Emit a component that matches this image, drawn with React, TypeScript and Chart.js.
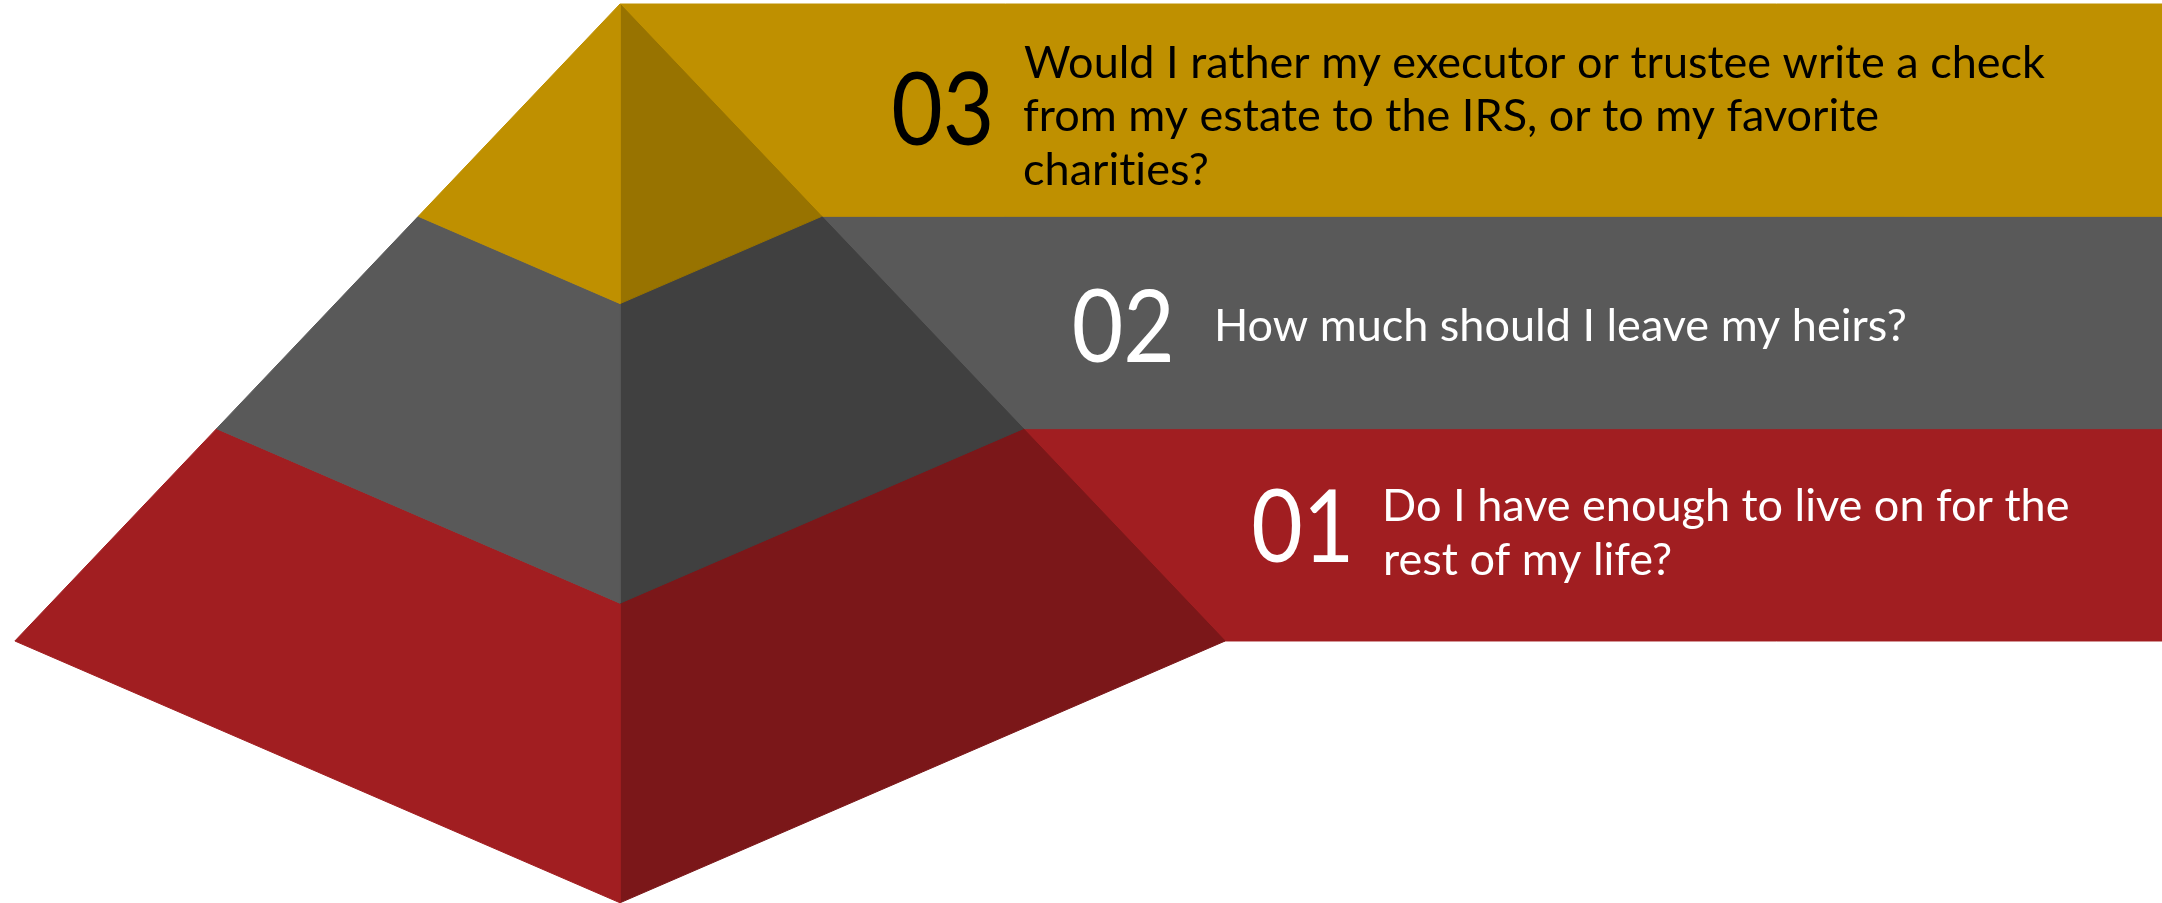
import React, { useEffect, useRef } from "react";
import { Chart, registerables } from "chart.js";

Chart.register(...registerables);

// ---------------- data ----------------
const tierNumbers = ["03", "02", "01"];
const tierQuestions: string[][] = [
  [
    "Would I rather my executor or trustee write a check",
    "from my estate to the IRS, or to my favorite",
    "charities?",
  ],
  ["How much should I leave my heirs?"],
  ["Do I have enough to live on for the", "rest of my life?"],
];
const tierLevels = [0, 1, 2, 3]; // tier boundaries, top to bottom (in tier units)

// ---------------- styles / layout ----------------
const faceLight = ["#BF9000", "#595959", "#A11E21"];
const faceDark = ["#987300", "#404040", "#7B1719"];
const textColors = ["#000000", "#FFFFFF", "#FFFFFF"];
const SLOPE = 0.95; // half-width growth per tier unit
const DEPTH = 0.411; // front-edge drop per tier unit
const W = 2162;
const H = 903;
const UNIT_PX = 212.33;
const APEX_X_PX = 620;
const APEX_Y_PX = 4;
const X_MIN = -APEX_X_PX / UNIT_PX;
const X_MAX = (W - APEX_X_PX) / UNIT_PX;
const Y_MIN = -APEX_Y_PX / UNIT_PX;
const Y_MAX = (H - APEX_Y_PX) / UNIT_PX;
const numberX = [1.29, 2.14, 2.985];
const textX = [1.903, 2.816, 3.608];
const numOffsetPx = [-2, 3, -10];
const textOffsetPx = [5, 3, -3];
const FONT = "Lato";
const NUM_SIZE = 100;
const NUM_XSCALE = 0.89;
const TEXT_SIZE = 45;
const LINE_H = 53.6;

function buildDatasets() {
  const sets: any[] = [];
  tierNumbers.forEach((_, i) => {
    const t0 = tierLevels[i];
    const t1 = tierLevels[i + 1];
    const top = t0 * (1 + DEPTH);
    const bot = t1 * (1 + DEPTH);
    const common = {
      showLine: true,
      fill: "shape",
      pointRadius: 0,
      pointHoverRadius: 0,
      borderWidth: 1,
      tension: 0,
    };
    sets.push({
      ...common,
      label: "band " + tierNumbers[i],
      order: 2,
      backgroundColor: faceLight[i],
      borderColor: faceLight[i],
      data: [
        { x: 0, y: t0 },
        { x: X_MAX, y: t0 },
        { x: X_MAX, y: t1 },
        { x: 0, y: t1 },
        { x: 0, y: t0 },
      ],
    });
    sets.push({
      ...common,
      label: "left " + tierNumbers[i],
      order: 1,
      backgroundColor: faceLight[i],
      borderColor: faceLight[i],
      data: [
        { x: -SLOPE * t0, y: t0 },
        { x: 0, y: top },
        { x: 0, y: bot },
        { x: -SLOPE * t1, y: t1 },
        { x: -SLOPE * t0, y: t0 },
      ],
    });
    sets.push({
      ...common,
      label: "right " + tierNumbers[i],
      order: 1,
      backgroundColor: faceDark[i],
      borderColor: faceDark[i],
      data: [
        { x: SLOPE * t0, y: t0 },
        { x: 0, y: top },
        { x: 0, y: bot },
        { x: SLOPE * t1, y: t1 },
        { x: SLOPE * t0, y: t0 },
      ],
    });
  });
  return sets;
}

const labelPlugin = {
  id: "tierLabels",
  afterDatasetsDraw(chart: any) {
    const { ctx } = chart;
    const xs = chart.scales.x;
    const ys = chart.scales.y;
    tierNumbers.forEach((num, i) => {
      const cy = ys.getPixelForValue((tierLevels[i] + tierLevels[i + 1]) / 2);
      ctx.save();
      (ctx as any).textRendering = "optimizeSpeed";
      ctx.fillStyle = textColors[i];
      ctx.textAlign = "left";
      ctx.textBaseline = "alphabetic";

      // big tier number (slightly condensed)
      ctx.font = `${NUM_SIZE}px ${FONT}`;
      const m = ctx.measureText(num);
      const nx = xs.getPixelForValue(numberX[i]);
      const ny = cy + numOffsetPx[i] + m.actualBoundingBoxAscent / 2;
      ctx.save();
      ctx.translate(nx, ny);
      ctx.scale(NUM_XSCALE, 1);
      ctx.fillText(num, m.actualBoundingBoxLeft, 0);
      ctx.restore();

      // question text
      ctx.font = `${TEXT_SIZE}px ${FONT}`;
      const lines = tierQuestions[i];
      const cap = ctx.measureText("H").actualBoundingBoxAscent;
      const blockH = cap + (lines.length - 1) * LINE_H;
      const firstBase = cy + textOffsetPx[i] - blockH / 2 + cap;
      const tx = xs.getPixelForValue(textX[i]);
      lines.forEach((ln, k) => {
        const lm = ctx.measureText(ln);
        ctx.fillText(ln, tx + lm.actualBoundingBoxLeft, firstBase + k * LINE_H);
      });
      ctx.restore();
    });
  },
};

export default function App() {
  const ref = useRef<HTMLCanvasElement | null>(null);
  useEffect(() => {
    if (!ref.current) return;
    const chart = new Chart(ref.current, {
      type: "scatter",
      data: { datasets: buildDatasets() },
      options: {
        responsive: false,
        animation: false,
        devicePixelRatio: 1,
        layout: { padding: 0 },
        plugins: {
          legend: { display: false },
          title: { display: false },
          tooltip: { enabled: false },
        },
        events: [],
        scales: {
          x: { type: "linear", min: X_MIN, max: X_MAX, display: false },
          y: { type: "linear", min: Y_MIN, max: Y_MAX, reverse: true, display: false },
        },
      },
      plugins: [labelPlugin],
    } as any);
    return () => chart.destroy();
  }, []);
  return (
    <div style={{ position: "fixed", left: 0, top: 0, width: W, height: H, background: "#fff" }}>
      <canvas ref={ref} width={W} height={H} style={{ width: W, height: H, display: "block" }} />
    </div>
  );
}
